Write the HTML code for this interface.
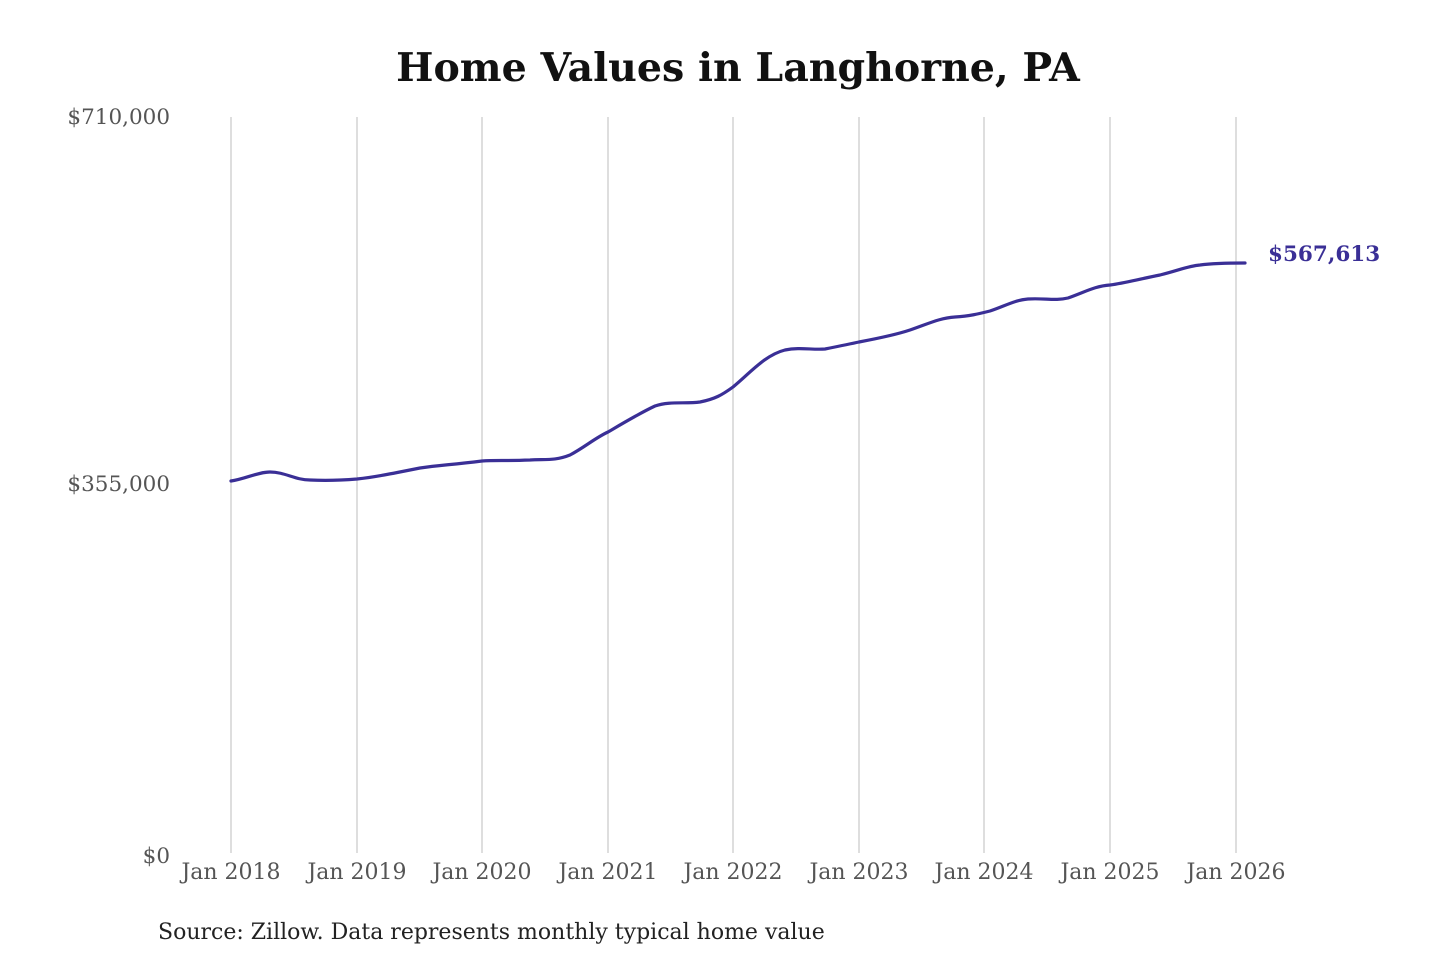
<!DOCTYPE html>
<html><head><style>
html,body{margin:0;padding:0;background:#fff;width:1440px;height:960px;overflow:hidden}
svg text{font-family:"DejaVu Serif","Liberation Serif",serif}
</style></head><body>
<svg width="1440" height="960" viewBox="0 0 1440 960" xmlns="http://www.w3.org/2000/svg">
<text x="738" y="81" text-anchor="middle" font-size="39.5" font-weight="bold" fill="#111">Home Values in Langhorne, PA</text>
<g stroke="#c8c8c8" stroke-width="1.2">
<line x1="231" y1="117" x2="231" y2="853"/><line x1="357" y1="117" x2="357" y2="853"/>
<line x1="482" y1="117" x2="482" y2="853"/><line x1="608" y1="117" x2="608" y2="853"/>
<line x1="733" y1="117" x2="733" y2="853"/><line x1="859" y1="117" x2="859" y2="853"/>
<line x1="984" y1="117" x2="984" y2="853"/><line x1="1110" y1="117" x2="1110" y2="853"/>
<line x1="1236" y1="117" x2="1236" y2="853"/>
</g>
<g font-size="21.5" fill="#555" text-anchor="end">
<text x="170" y="124">$710,000</text>
<text x="170" y="491">$355,000</text>
<text x="170" y="863">$0</text>
</g>
<g font-size="22" fill="#555" text-anchor="middle">
<text x="231" y="879">Jan 2018</text><text x="357" y="879">Jan 2019</text>
<text x="482" y="879">Jan 2020</text><text x="608" y="879">Jan 2021</text>
<text x="733" y="879">Jan 2022</text><text x="859" y="879">Jan 2023</text>
<text x="984" y="879">Jan 2024</text><text x="1110" y="879">Jan 2025</text>
<text x="1236" y="879">Jan 2026</text>
</g>
<path fill="none" stroke="#3a2f96" stroke-width="3.2" stroke-linejoin="round" stroke-linecap="round"
d="M231,481 C245,479 258,472 270,472 C285,472 295,480 310,480 C330,481 345,480 357,479 C375,477 390,474 420,468 C440,465 450,465 482,461 C495,460 505,461 530,460 C545,459 555,461 570,455 C585,447 595,438 608,432 C625,422 640,413 655,406 C670,401 685,404 700,402 C715,399 722,395 733,387 C750,373 765,355 785,350 C800,347 812,350 825,349 C840,346 850,344 859,342 C875,339 895,335 910,330 C930,323 940,318 955,317 C970,316 978,314 990,311 C1005,306 1015,300 1028,299 C1045,298 1055,301 1068,298 C1085,292 1095,286 1110,285 C1125,283 1135,280 1160,275 C1180,270 1188,266 1200,265 C1215,263 1230,263 1245,263"/>
<text x="1268" y="261" font-size="21.5" font-weight="bold" fill="#3a2f96">$567,613</text>
<text x="158" y="939" font-size="22" fill="#222">Source: Zillow. Data represents monthly typical home value</text>
</svg>
</body></html>
